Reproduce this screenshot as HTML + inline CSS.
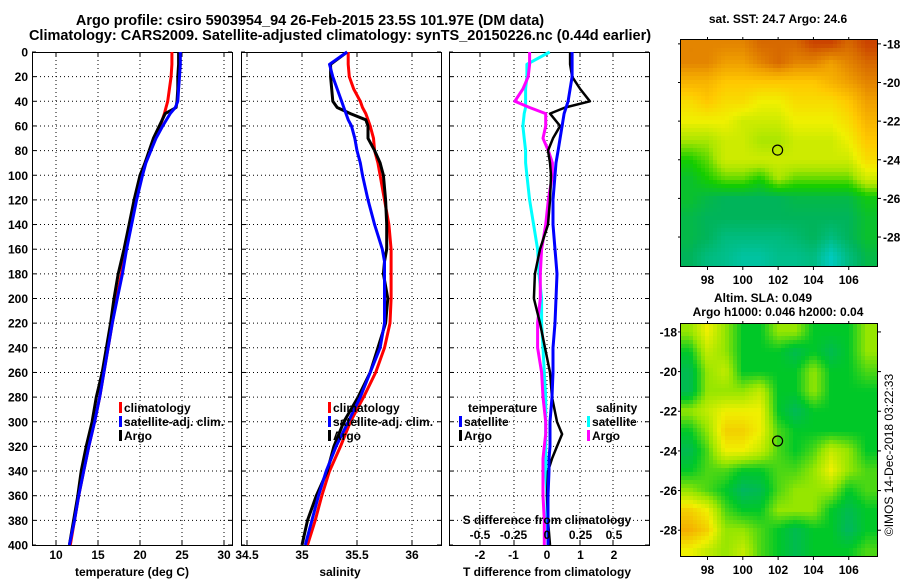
<!DOCTYPE html>
<html><head><meta charset="utf-8"><style>
html,body{margin:0;padding:0;background:#fff}
svg{display:block;font-family:"Liberation Sans",sans-serif;font-weight:bold}
</style></head><body>
<svg id="c" width="900" height="580" viewBox="0 0 900 580" xmlns="http://www.w3.org/2000/svg">
<text x="310" y="25" font-size="14.5" text-anchor="middle">Argo profile: csiro 5903954_94 26-Feb-2015 23.5S 101.97E (DM data)</text>
<text x="340" y="40" font-size="14.5" text-anchor="middle">Climatology: CARS2009. Satellite-adjusted climatology: synTS_20150226.nc (0.44d earlier)</text>
<text x="778" y="23" font-size="12" text-anchor="middle">sat. SST: 24.7 Argo: 24.6</text>
<text x="763" y="302" font-size="12" text-anchor="middle">Altim. SLA: 0.049</text>
<text x="778" y="316" font-size="12" text-anchor="middle">Argo h1000: 0.046 h2000: 0.04</text>
<text transform="translate(893,455) rotate(-90)" font-size="12" font-weight="normal" text-anchor="middle">©IMOS 14-Dec-2018 03:22:33</text>
<g id="p1"></g>
<g id="p2"></g>
<g id="p3"></g>
<g id="m1"></g>
<g id="m2"></g>
</svg>
<script>
const depthT=[0,10,20,30,40,45,50,60,70,80,90,100,120,140,160,180,200,220,240,260,280,300,320,340,360,380,400];
const climT=[23.8,23.8,23.7,23.5,23.3,23.1,22.9,22.4,21.8,21.2,20.6,20.2,19.5,18.9,18.3,17.8,17.2,16.7,16.2,15.7,15.2,14.6,13.9,13.3,12.7,12.2,11.7];
const satT=[24.8,24.8,24.7,24.6,24.5,24.2,23.6,22.7,21.9,21.3,20.7,20.3,19.6,19,18.4,17.9,17.3,16.7,16.2,15.7,15.2,14.6,13.9,13.3,12.7,12.2,11.6];
const argoT=[24.6,24.6,24.5,24.5,24.4,24.3,23,22.3,21.6,21.1,20.6,20.0,19.3,18.7,18.1,17.4,16.9,16.5,16.0,15.5,14.8,14.3,13.6,13.0,12.6,12.1,11.6];
const depthS=[0,10,20,30,40,45,50,55,60,70,80,90,100,120,140,160,170,180,200,220,240,260,280,300,320,340,360,380,400];
const climS=[35.42,35.42,35.43,35.47,35.53,35.55,35.58,35.60,35.62,35.65,35.66,35.69,35.71,35.75,35.79,35.81,35.81,35.81,35.81,35.80,35.75,35.67,35.56,35.44,35.35,35.25,35.18,35.12,35.05];
const satS=[35.41,35.25,35.28,35.32,35.36,35.38,35.40,35.42,35.45,35.48,35.50,35.53,35.55,35.60,35.66,35.73,35.75,35.75,35.75,35.75,35.71,35.62,35.53,35.42,35.31,35.22,35.15,35.09,35.03];
const argoS=[35.41,35.26,35.26,35.27,35.28,35.32,35.44,35.58,35.60,35.60,35.66,35.71,35.74,35.76,35.77,35.77,35.75,35.74,35.78,35.76,35.69,35.62,35.51,35.38,35.29,35.23,35.13,35.05,35.00];
const depthD=[0,10,20,30,40,45,50,60,70,80,90,100,120,140,160,180,200,220,240,260,280,300,310,320,330,340,360,380,400];
const satTdiff=[.75,.75,.75,.69,.63,.57,.51,.45,.39,.33,.27,.24,.18,.18,.24,.30,.27,.24,.18,.18,.15,.09,.09,.09,.06,.06,.03,.03,.03];
const argoTdiff=[.69,.69,.75,.99,1.28,.54,.09,.39,.18,.03,.09,.12,.09,.03,-.21,-.36,-.39,-.21,-.06,.09,.15,.30,.45,.30,.15,.03,0,.03,.09];
const satSdiff=[.02,-.15,-.15,-.16,-.16,-.16,-.17,-.18,-.17,-.16,-.16,-.15,-.13,-.10,-.07,-.06,-.04,-.04,-.03,-.02,-.01,-.01,-.01,-.01,-.01,-.01,0,0,.01];
const argoSdiff=[-.13,-.13,-.14,-.18,-.24,-.13,-.01,-.01,-.03,.01,.04,.04,.01,-.01,-.04,-.05,-.05,-.07,-.07,-.04,-.03,-.01,-.01,-.02,-.03,-.03,-.03,-.02,-.02];
const depthTicks=[0,20,40,60,80,100,120,140,160,180,200,220,240,260,280,300,320,340,360,380,400];
const tTicks=[10,15,20,25,30];
const sTicks=[34.5,35,35.5,36];
const sTickLabels=["34.5","35","35.5","36"];
const tdTicks=[-2,-1,0,1,2];
const sdTicks=[-0.5,-0.25,0,0.25,0.5];
const sdTickLabels=["-0.5","-0.25","0","0.25","0.5"];
const lonTicks=[98,100,102,104,106];
const latTicks=[-18,-20,-22,-24,-26,-28];
const sstGrid=[
[8.5,8.5,8.5,8.5,9,9,9,9.5,9.5,9,9.5],
[8.5,8.5,8,8,8.5,9,8.5,8.5,8,8.5,9],
[7.5,7.5,7,7,7,7,7,7,7.5,8,8.5],
[6.5,7,6.5,6.5,6,6,6.5,6.5,6.5,7,8],
[6,6,6,5.5,5.5,5.5,6,6,6,6.5,7.5],
[5,5,5.5,5.5,5,5,5.5,5.5,5.5,6,7],
[4,4.5,5.5,5.5,5.5,5.5,5.5,5.5,5.5,5.5,6.5],
[3.5,4,4.5,4.5,4,5,4.5,4.5,4.5,4.5,5.5],
[3.5,3.2,3,3,3,3,3.2,3.2,3.2,3.2,3.8],
[3.2,3,3,3,3,3,3,3,3,3,3.5],
[3.2,3,2.5,2.5,2.5,2.5,2.7,3,2.5,3,3.5],
[3,2.5,2.3,2,2,2.3,2.3,2.5,1.5,2.5,3.2]];
const slaGrid=[
[2,3,2,1,1,2,2,1,1,1,2],
[1,2.5,2,1,1,1,0.5,1,0.5,1,2],
[0.5,2,2.5,1,1,1,1,2,1,1,1.5],
[0.5,2,2,2,2.5,1,1,2,1,1,1],
[2,2.5,3,3,3,1,0.4,1,1,1,1],
[1,2,3.5,3.5,3,1.5,1,1,1,1,1],
[0.5,1.5,3,3,2.5,1.5,1,1.5,2.5,2,1],
[1,1.5,1.5,1,1,1.5,1.5,2,3,2,1.5],
[2,1.5,1,0.3,0.5,1.5,2,2,2,1,1.5],
[3.5,3,1.5,1,1,2,2,2,1,0.5,1],
[4,3.5,2,2,1.5,1,0.5,1,1,0.3,1],
[3,2.5,2,2.5,1.5,1,0.5,1,1,1,1.5]];
const argoLon=[101.97], argoLat=[-23.5];

const NS="http://www.w3.org/2000/svg";
function mk(p,tag,at,txt){const e=document.createElementNS(NS,tag);for(const k in at)e.setAttribute(k,at[k]);if(txt!==undefined)e.textContent=txt;p.appendChild(e);return e;}
const Y0=52,Y1=545;
const yD=d=>Y0+(Y1-Y0)*d/400;
function lin(d0,d1,r0,r1){return v=>r0+(v-d0)*(r1-r0)/(d1-d0);}

function frame(g,x0,x1,gridXs,leftLabels){
  gridXs.forEach(x=>{const l=mk(g,'line',{x1:x,x2:x,y1:Y0,y2:Y1,stroke:'#000','stroke-width':1,'stroke-dasharray':'1 3'});
    
    
    mk(g,'line',{x1:x,x2:x,y1:Y1,y2:Y1-4,stroke:'#000'});mk(g,'line',{x1:x,x2:x,y1:Y0,y2:Y0+4,stroke:'#000'});});
  depthTicks.forEach(d=>{const y=yD(d);
    if(d>0&&d<400){const l=mk(g,'line',{x1:x0,x2:x1,y1:y,y2:y,stroke:'#000','stroke-width':1,'stroke-dasharray':'1 3'});
      
      }
    mk(g,'line',{x1:x0,x2:x0+4,y1:y,y2:y,stroke:'#000'});mk(g,'line',{x1:x1,x2:x1-4,y1:y,y2:y,stroke:'#000'});
    if(leftLabels){const t=mk(g,'text',{x:x0-4,y:y+4.5,'font-size':12,'text-anchor':'end'},String(d));
      
      }
  });
  const r=mk(g,'rect',{x:x0+.5,y:Y0+.5,width:x1-x0,height:Y1-Y0,fill:'none',stroke:'#000'});
  
  
}
function line(g,xs,ds,sx,col,name,w){
  const pts=xs.map((v,i)=>sx(v).toFixed(1)+','+yD(ds[i]).toFixed(1)).join(' ');
  const p=mk(g,'polyline',{points:pts,fill:'none',stroke:col,'stroke-width':w||3,'stroke-linejoin':'round'});
  
  
}
function legend(g,x,y,col,label,name){
  mk(g,'rect',{x:x,y:y-10,width:3,height:11,fill:col});
  const t=mk(g,'text',{x:x+5,y:y,'font-size':12},label);
  
  
}
function xlabels(g,ticks,labels,sx,y,name){
  ticks.forEach((v,i)=>{const t=mk(g,'text',{x:sx(v),y:y,'font-size':12,'text-anchor':'middle'},labels?labels[i]:String(v));
    
    });
}
// Panel 1
const p1=document.getElementById('p1');
const sxT=lin(10,30,56,224);
frame(p1,32,232,tTicks.map(sxT),true);
line(p1,climT,depthT,sxT,'#f00','climatology-temperature-line');
line(p1,argoT,depthT,sxT,'#000','argo-temperature-line');
line(p1,satT,depthT,sxT,'#00f','satellite-temperature-line');
legend(p1,119,412,'#f00','climatology','legend-climatology');
legend(p1,119,426,'#00f','satellite-adj. clim.','legend-satellite');
legend(p1,119,440,'#000','Argo','legend-argo');
xlabels(p1,tTicks,null,sxT,559,'temperature-tick-label');
const a1=mk(p1,'text',{x:132,y:576,'font-size':12,'text-anchor':'middle'},'temperature (deg C)');


// Panel 2
const p2=document.getElementById('p2');
const sxS=lin(35,36,302,412);
frame(p2,241,441,sTicks.map(sxS),false);
line(p2,climS,depthS,sxS,'#f00','climatology-salinity-line');
line(p2,argoS,depthS,sxS,'#000','argo-salinity-line');
line(p2,satS,depthS,sxS,'#00f','satellite-salinity-line');
legend(p2,328,412,'#f00','climatology','legend-climatology');
legend(p2,328,426,'#00f','satellite-adj. clim.','legend-satellite');
legend(p2,328,440,'#000','Argo','legend-argo');
xlabels(p2,sTicks,sTickLabels,sxS,559,'salinity-tick-label');
const a2=mk(p2,'text',{x:340,y:576,'font-size':12,'text-anchor':'middle'},'salinity');


// Panel 3
const p3=document.getElementById('p3');
const sxTD=lin(0,1,547,580.5);
const sxSD=lin(0,0.25,547,580.5);
frame(p3,449,649,[480,514,547,580,613],false);
line(p3,satSdiff,depthD,sxSD,'#0ff','satellite-salinity-diff-line');
line(p3,argoSdiff,depthD,sxSD,'#f0f','argo-salinity-diff-line');
line(p3,argoTdiff,depthD,sxTD,'#000','argo-temperature-diff-line',2.5);
line(p3,satTdiff,depthD,sxTD,'#00f','satellite-temperature-diff-line');
[['temperature',468,412,'legend-temperature-header'],['salinity',596,412,'legend-salinity-header']].forEach(a=>{const t=mk(p3,'text',{x:a[1],y:a[2],'font-size':12},a[0]);
  
  });
legend(p3,459,426,'#00f','satellite','legend-satellite-t');
legend(p3,459,440,'#000','Argo','legend-argo-t');
legend(p3,587,426,'#0ff','satellite','legend-satellite-s');
legend(p3,587,440,'#f0f','Argo','legend-argo-s');
const sdt=mk(p3,'text',{x:547,y:524,'font-size':12,'text-anchor':'middle'},'S difference from climatology');


xlabels(p3,sdTicks,sdTickLabels,sxSD,539,'s-diff-tick-label');
xlabels(p3,tdTicks,null,sxTD,559,'t-diff-tick-label');
const a3=mk(p3,'text',{x:547,y:576,'font-size':12,'text-anchor':'middle'},'T difference from climatology');



// Maps
function interp(stops,v){for(let i=0;i<stops.length-1;i++){const a=stops[i],b=stops[i+1];if(v<=b[0]){const t=Math.max(0,(v-a[0])/(b[0]-a[0]));return 'rgb('+[0,1,2].map(k=>Math.round(a[1][k]+(b[1][k]-a[1][k])*t)).join(',')+')';}}return 'rgb('+stops[stops.length-1][1].join(',')+')';}
const sstStops=[[1,[0,210,220]],[2,[0,195,160]],[3,[0,180,90]],[4,[20,205,0]],[5,[170,230,0]],[6,[240,240,0]],[7,[255,200,0]],[8,[240,160,0]],[9,[215,105,0]],[10,[190,30,0]]];
const slaStops=[[0,[0,175,120]],[1,[0,200,40]],[2,[150,230,0]],[3,[240,240,0]],[4,[245,175,0]]];
function bil(G,r,c){const R=G.length-1,C=G[0].length-1;r=Math.max(0,Math.min(R,r));c=Math.max(0,Math.min(C,c));const r0=Math.min(R-1,Math.floor(r)),c0=Math.min(C-1,Math.floor(c));const fr=r-r0,fc=c-c0;
  return G[r0][c0]*(1-fr)*(1-fc)+G[r0][c0+1]*(1-fr)*fc+G[r0+1][c0]*fr*(1-fc)+G[r0+1][c0+1]*fr*fc;}
function drawMap(g,G,stops,x0,x1,y0,y1,latTop,cell,name,labelsLeft){
  const lon0=96.5,lon1=107.6,latBot=latTop-11.7;
  const sx=lin(lon0,lon1,x0,x1), sy=lin(latTop,latBot,y0,y1);
  const cells=mk(g,'g',{});
  
  
  for(let y=y0;y<y1;y+=cell)for(let x=x0;x<x1;x+=cell){
    const lon=lon0+(x+cell/2-x0)/(x1-x0)*(lon1-lon0), lat=latTop-(y+cell/2-y0)/(y1-y0)*(latTop-latBot);
    const v=bil(G,(-18-lat),(lon-96.5-0.5));
    mk(cells,'rect',{x:x,y:y,width:Math.min(cell,x1-x)+.3,height:Math.min(cell,y1-y)+.3,fill:interp(stops,v)});
  }
  const f=mk(g,'rect',{x:x0-.5,y:y0-.5,width:x1-x0+1,height:y1-y0+1,fill:'none',stroke:'#000'});
  
  
  lonTicks.forEach(l=>{const x=sx(l);mk(g,'line',{x1:x,x2:x,y1:y1,y2:y1+4,stroke:'#000'});mk(g,'line',{x1:x,x2:x,y1:y0,y2:y0-3,stroke:'#000'});
    const t=mk(g,'text',{x:x,y:y1+18,'font-size':12,'text-anchor':'middle'},String(l));
    
    });
  latTicks.forEach(l=>{const y=sy(l);mk(g,'line',{x1:x1,x2:x1+4,y1:y,y2:y,stroke:'#000'});mk(g,'line',{x1:x0,x2:x0-3,y1:y,y2:y,stroke:'#000'});
    const t=labelsLeft?mk(g,'text',{x:x0-4,y:y+4.5,'font-size':12,'text-anchor':'end'},String(l)):mk(g,'text',{x:x1+6,y:y+4.5,'font-size':12},String(l));
    
    });
  const c=mk(g,'circle',{cx:sx(argoLon[0]),cy:sy(argoLat[0]),r:5,fill:'none',stroke:'#000','stroke-width':1.2});
  
  
}
drawMap(document.getElementById('m1'),sstGrid,sstStops,681,877,40,266,-17.8,4,'sst-map',false);
drawMap(document.getElementById('m2'),slaGrid,slaStops,681,877,324,556,-17.6,4,'sla-map',true);
</script>
</body></html>
